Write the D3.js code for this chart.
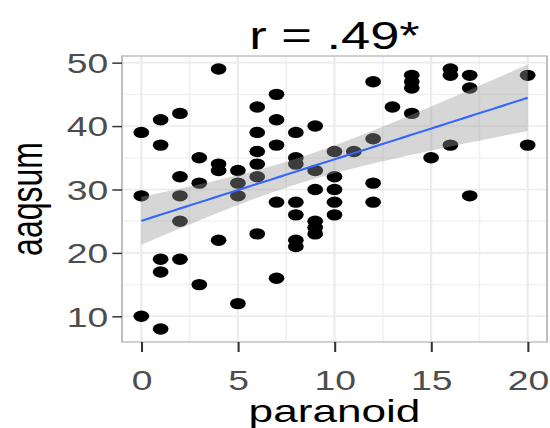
<!DOCTYPE html>
<html>
<head>
<meta charset="utf-8">
<script src="https://cdn.jsdelivr.net/npm/d3@7"></script>
<style>
  html, body { margin: 0; padding: 0; background: #fff; }
  svg { display: block; }
  text { font-family: "Liberation Sans", Arial, sans-serif; }
</style>
</head>
<body>
<div id="chart"></div>
<script>
// paranoid score (x) and aaqsum (y), one entry per respondent
const paranoid = [
  0, 0, 0,
  1, 1, 1, 1, 1,
  2, 2, 2, 2, 2,
  3, 3, 3,
  4, 4, 4, 4,
  5, 5, 5, 5,
  6, 6, 6, 6, 6, 6,
  7, 7, 7, 7, 7,
  8, 8, 8, 8, 8, 8, 8,
  9, 9, 9, 9, 9, 9,
  10, 10, 10, 10, 10,
  11,
  12, 12, 12, 12,
  13,
  14, 14, 14, 14,
  15,
  16, 16, 16,
  17, 17, 17,
  20, 20
];
const aaqsum = [
  39, 29, 10,
  41, 37, 19, 17, 8,
  42, 32, 29, 25, 19,
  35, 31, 15,
  49, 34, 33, 22,
  33, 31, 29, 12,
  43, 39, 36, 34, 32, 23,
  45, 41, 37, 28, 16,
  39, 35, 34, 28, 26, 22, 21,
  40, 33, 30, 25, 24, 23,
  36, 32, 30, 28, 26,
  36,
  47, 38, 31, 28,
  43,
  48, 47, 46, 42,
  35,
  49, 48, 37,
  48, 46, 29,
  48, 37
];
const xTicks = [0, 5, 10, 15, 20];
const yTicks = [10, 20, 30, 40, 50];
const xMinor = [2.5, 7.5, 12.5, 17.5];
const yMinor = [15, 25, 35, 45];
const title = 'r = .49*';
const xTitle = 'paranoid';
const yTitle = 'aaqsum';

// the reference picture is stretched sideways, so draw in narrower units and stretch
const sx = 1.38;
const W = 550, H = 428;
const iw = W / sx;
const panel = { left: 122 / sx, right: 547 / sx, top: 56, bottom: 342 };

const svg = d3.select('#chart').append('svg')
  .attr('width', W)
  .attr('height', H)
  .attr('viewBox', `0 0 ${iw} ${H}`)
  .attr('preserveAspectRatio', 'none');

const xr = d3.extent(paranoid), yr = d3.extent(aaqsum);
const xpad = (xr[1] - xr[0]) * 0.05, ypad = (yr[1] - yr[0]) * 0.05;

const x = d3.scaleLinear()
  .domain([xr[0] - xpad, xr[1] + xpad])
  .range([panel.left, panel.right]);
const y = d3.scaleLinear()
  .domain([yr[0] - ypad, yr[1] + ypad])
  .range([panel.bottom, panel.top]);

// panel background + grid
svg.append('rect')
  .attr('x', panel.left).attr('y', panel.top)
  .attr('width', panel.right - panel.left)
  .attr('height', panel.bottom - panel.top)
  .attr('fill', '#fff');

const grid = svg.append('g');
grid.selectAll('.vminor').data(xMinor).enter().append('line')
  .attr('x1', d => x(d)).attr('x2', d => x(d))
  .attr('y1', panel.top).attr('y2', panel.bottom)
  .attr('stroke', '#f1f1f1').attr('stroke-width', 1.2);
grid.selectAll('.hminor').data(yMinor).enter().append('line')
  .attr('x1', panel.left).attr('x2', panel.right)
  .attr('y1', d => y(d)).attr('y2', d => y(d))
  .attr('stroke', '#f1f1f1').attr('stroke-width', 1.2);
grid.selectAll('.vmajor').data(xTicks).enter().append('line')
  .attr('x1', d => x(d)).attr('x2', d => x(d))
  .attr('y1', panel.top).attr('y2', panel.bottom)
  .attr('stroke', '#ebebeb').attr('stroke-width', 1.6);
grid.selectAll('.hmajor').data(yTicks).enter().append('line')
  .attr('x1', panel.left).attr('x2', panel.right)
  .attr('y1', d => y(d)).attr('y2', d => y(d))
  .attr('stroke', '#ebebeb').attr('stroke-width', 1.6);

// points
const pts = paranoid.map((v, i) => [v, aaqsum[i]]);
svg.append('g').selectAll('circle')
  .data(pts)
  .enter()
  .append('circle')
  .attr('cx', d => x(d[0]))
  .attr('cy', d => y(d[1]))
  .attr('r', 5.7)
  .attr('fill', '#000');

// linear fit with 95% confidence band
const n = pts.length;
const mx = d3.mean(paranoid), my = d3.mean(aaqsum);
const sxx = d3.sum(paranoid, v => (v - mx) * (v - mx));
const sxy = d3.sum(pts, d => (d[0] - mx) * (d[1] - my));
const slope = sxy / sxx;
const icpt = my - slope * mx;
const rss = d3.sum(pts, d => Math.pow(d[1] - (icpt + slope * d[0]), 2));
const s = Math.sqrt(rss / (n - 2));
const tval = 1.994;
const fitX = d3.range(0, 81).map(i => xr[0] + (xr[1] - xr[0]) * i / 80);
const band = fitX.map(v => {
  const fit = icpt + slope * v;
  const se = s * Math.sqrt(1 / n + (v - mx) * (v - mx) / sxx);
  return { x: v, fit: fit, lo: fit - tval * se, hi: fit + tval * se };
});

svg.append('path')
  .datum(band)
  .attr('d', d3.area().x(d => x(d.x)).y0(d => y(d.lo)).y1(d => y(d.hi)))
  .attr('fill', '#999999')
  .attr('fill-opacity', 0.4);

svg.append('path')
  .datum(band)
  .attr('d', d3.line().x(d => x(d.x)).y(d => y(d.fit)))
  .attr('fill', 'none')
  .attr('stroke', '#3366FF')
  .attr('stroke-width', 2);

// panel border
svg.append('rect')
  .attr('x', panel.left).attr('y', panel.top)
  .attr('width', panel.right - panel.left)
  .attr('height', panel.bottom - panel.top)
  .attr('fill', 'none')
  .attr('stroke', '#bdbdbd')
  .attr('stroke-width', 1.4);

// axes
const xAxis = svg.append('g')
  .attr('transform', `translate(0,${panel.bottom})`)
  .call(d3.axisBottom(x).tickValues(xTicks).tickSize(10).tickPadding(4));
xAxis.select('.domain').remove();
xAxis.selectAll('.tick line').attr('stroke', '#333').attr('stroke-width', 1.5);
xAxis.selectAll('.tick text')
  .attr('fill', '#4d4d4d')
  .attr('font-size', 27)
  .attr('dy', null)
  .attr('y', 48);

const yAxis = svg.append('g')
  .attr('transform', `translate(${panel.left},0)`)
  .call(d3.axisLeft(y).tickValues(yTicks).tickSize(7).tickPadding(3));
yAxis.select('.domain').remove();
yAxis.selectAll('.tick line').attr('stroke', '#333').attr('stroke-width', 1.5);
yAxis.selectAll('.tick text')
  .attr('fill', '#4d4d4d')
  .attr('font-size', 27)
  .attr('dy', '0.36em');

// titles
const cx = (panel.left + panel.right) / 2;
svg.append('text')
  .attr('x', cx).attr('y', 49)
  .attr('text-anchor', 'middle')
  .attr('font-size', 38)
  .attr('fill', '#000')
  .text(title);

svg.append('text')
  .attr('x', cx).attr('y', 422)
  .attr('text-anchor', 'middle')
  .attr('font-size', 32)
  .attr('fill', '#000')
  .text(xTitle);

svg.append('text')
  .attr('transform', `translate(${42 / sx},${(panel.top + panel.bottom) / 2}) rotate(-90)`)
  .attr('text-anchor', 'middle')
  .attr('font-size', 32)
  .attr('fill', '#000')
  .text(yTitle);
</script>
</body>
</html>
